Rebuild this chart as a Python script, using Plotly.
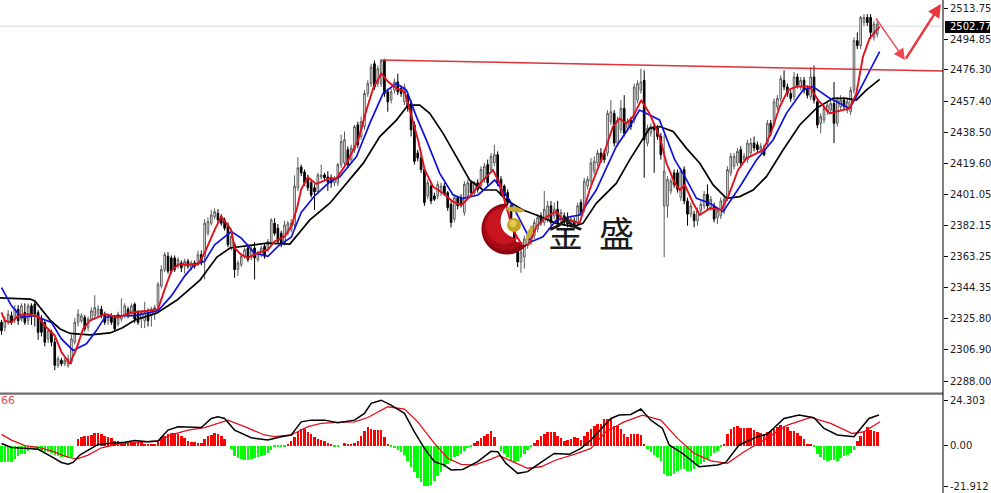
import math
import plotly.graph_objects as go

opens = [
2323.5,2320.5,2323.5,2327.5,2325.5,2331.5,2325.5,2329.5,2324.5,2333.5,
2334.5,2329.5,2325.5,2323.5,2313.5,2317.5,2311.5,2297.5,2300.5,2298.5,
2297.5,2299.5,2311.5,2323.5,2324.5,2326.5,2320.5,2325.5,2327.5,2328.5,
2331.5,2328.5,2324.5,2327.5,2326.5,2322.5,2325.5,2327.5,2331.5,2328.5,
2334.5,2329.5,2325.5,2324.5,2329.5,2327.5,2328.5,2333.5,2345.5,2355.5,
2363.5,2362.5,2362.5,2357.5,2359.5,2357.5,2360.5,2356.5,2359.5,2359.5,
2364.5,2363.5,2377.5,2383.5,2387.5,2389.5,2387.5,2385.5,2382.5,2368.5,
2370.5,2355.5,2358.5,2363.5,2368.5,2363.5,2368.5,2361.5,2364.5,2369.5,
2367.5,2371.5,2383.5,2380.5,2377.5,2371.5,2377.5,2379.5,2382.5,2405,
2417.5,2414.5,2411,2408,2405,2402.5,2411.5,2412.7,2411.5,2411,
2408,2408,2419,2420,2428,2422,2428,2443,2436,2442,
2462,2468,2480,2468,2468,2482,2463,2458,2464,2469,
2465,2457,2461,2456,2443,2426,2423,2416,2400,2406,
2400,2400,2402,2406,2402,2395,2386,2399,2399,2390,
2400,2408,2402,2408,2406,2410,2419,2416,2420,2425,
2410,2406,2402,2394,2384,2369,2360,2363,2370,2372,
2376,2380,2388,2384,2386,2394,2388,2392,2386,2388,
2387,2382,2385,2384,2396,2392,2406,2409,2415,2420,
2426,2426,2426,2445,2450,2432,2440,2453,2441,2446,
2446,2458,2464,2470,2432,2438,2442,2441,2436,2394,
2394,2403,2414,2414,2399,2416,2397,2389,2389,2385,
2391,2394,2401,2393,2394,2387,2388,2391,2399,2414,
2418,2420,2428,2422,2422,2426,2432,2431,2428,2429,
2432,2444,2444,2454,2459,2470,2466,2462,2460,2472,
2466,2470,2465,2460,2472,2457,2444,2446,2451,2452,
2456,2444,2454,2458,2452,2451,2464,2494,2491,2505,
2508,2508,2496,2498]
highs = [
2325,2327,2331,2330,2334,2334,2335,2335,2335,2335,
2336,2331,2328,2325,2320,2319,2314,2303,2302,2302,
2304,2316,2326,2331.5,2329,2328,2327,2332.5,2340,2334,
2333.5,2330,2329,2329,2328,2330,2338,2335,2333,2335,
2335.5,2331,2331,2336,2332,2333,2334,2348,2358,2366,
2366,2364,2364,2363,2361,2362,2362,2361,2361,2367,
2367,2386,2387,2391.5,2392.5,2392,2389,2387,2384,2378,
2372,2361,2365,2369,2371,2370,2372,2367,2370,2371,
2374,2386.5,2386.5,2383,2379,2385,2385,2386,2412.5,2423.5,
2419,2416,2413,2410,2407,2414,2419,2414,2415,2413,
2412,2420,2437,2439,2430,2431,2443,2445,2448,2464,
2470,2480,2482,2479,2483,2483,2465,2465,2471,2474,
2467,2468,2463,2458,2445,2428,2425,2418,2410,2408,
2402,2409,2408,2408,2403,2397,2401,2400,2401,2409,
2410,2409,2409,2410,2418,2420,2422,2426,2431,2427,
2412,2407,2404,2396,2386,2371,2368,2376,2378,2382,
2386,2389,2390,2403,2397,2397,2396,2397,2392,2390,
2390,2388,2387,2396,2398,2411,2412,2423,2424,2428,
2429,2428,2452,2458,2452,2448,2458,2461,2447,2448,
2468,2470,2477,2476,2443,2444,2444,2443,2438,2437,
2412,2411,2416,2416,2417,2418,2399,2396,2391,2393,
2397,2403,2407,2400,2396,2393,2399,2400,2418,2426,
2426,2429,2430,2426,2434,2435,2436,2433,2432,2431,
2446,2446,2459,2461,2473,2476,2468,2464,2475,2474,
2472,2472,2467,2478,2479,2459,2450,2455,2457,2458,
2469,2460,2461,2460,2459,2466,2496,2499,2509,2510,
2510,2510,2506,2507]
lows = [
2316,2318,2322,2322,2323,2322,2324,2322,2322,2322,
2321,2313,2315,2309,2311,2309,2294.5,2296,2297,2297,
2296,2298,2310,2321,2323,2318,2318,2324,2325,2327,
2326,2322,2322,2322,2318,2321,2324,2326,2326,2327,
2323,2322,2320,2320,2321,2321,2325,2332,2344,2354,
2353,2353,2354,2356,2354,2353,2356,2355,2356,2358,
2358,2349.5,2376,2382,2386,2384,2382,2379,2369,2367,
2350.5,2351.5,2357,2362,2360,2361,2349.5,2360,2363,2362,
2366,2370,2376,2371,2369,2370,2376,2378,2381,2403,
2412,2406,2403,2399,2391.5,2401,2410,2409,2403,2405,
2406,2406,2417,2418,2417,2420,2426,2429,2434,2440,
2460,2466,2464,2466,2466,2460,2451,2456,2462,2461,
2460,2455,2451,2436,2419,2421,2414,2394,2398,2395,
2397,2398,2400,2400,2391,2381,2384,2392,2393,2388,
2399,2400,2400,2402,2404,2408,2406,2414,2418,2406,
2400,2398,2394,2382,2366,2357,2353.5,2356,2368,2370,
2374,2378,2382,2382,2384,2382,2386,2382,2384,2382,
2381,2380,2380,2382,2388,2390,2404,2407,2413,2418,
2420,2420,2424,2443,2430,2430,2438,2436,2439,2440,
2444,2456,2462,2411,2430,2436,2414,2434,2422,2363,
2387,2401,2405,2402,2397,2395,2382,2387,2381,2382,
2389,2392,2392,2391,2384,2383,2386,2389,2397,2412,
2416,2418,2418,2420,2420,2424,2427,2426,2426,2424,
2430,2436,2442,2452,2457,2464,2460,2457,2458,2465,
2464,2462,2459,2458,2456,2441,2438,2444,2449,2450,
2432,2442,2452,2452,2450,2449,2462,2489,2489,2503,
2503,2495,2494,2496]
closes = [
2318.5,2324.5,2328.5,2323.5,2331.5,2324.5,2333.5,2323.5,2333.5,2327.5,
2328.5,2317.5,2317.5,2311.5,2318.5,2311.5,2297.5,2301.5,2298.5,2300.5,
2301.5,2313.5,2323.5,2328.5,2327.5,2319.5,2325.5,2330.5,2332.5,2331.5,
2327.5,2323.5,2327.5,2323.5,2319.5,2328.5,2327.5,2333.5,2327.5,2333.5,
2325.5,2323.5,2329.5,2329.5,2324.5,2331.5,2332.5,2346.5,2355.5,2364.5,
2354.5,2354.5,2355.5,2361.5,2356.5,2360.5,2357.5,2359.5,2357.5,2364.5,
2359.5,2383.5,2384.5,2388.5,2390.5,2385.5,2383.5,2380.5,2370.5,2375.5,
2355.5,2359.5,2363.5,2367.5,2361.5,2367.5,2362.5,2365.5,2368.5,2363.5,
2372.5,2385.5,2377.5,2372.5,2370.5,2382.5,2383.5,2383.5,2406,2417,
2414,2408,2405,2400.5,2402.5,2412.7,2412.7,2411,2408.5,2408,
2411,2419,2433,2434,2419,2429,2442,2431,2445,2462,
2468,2478,2466,2477,2482,2462,2457,2463,2469,2463,
2462,2466,2453,2440,2421,2423,2416,2396,2408,2397,
2398,2407,2406,2401,2393,2384,2399,2394,2395,2407,
2408,2402,2408,2404,2416,2418,2408,2424,2425,2408,
2402,2400,2396,2384,2368,2360,2366,2374,2376,2380,
2384,2387,2384,2392,2394,2384,2392,2384,2390,2384,
2383,2386,2382,2394,2390,2409,2410,2420,2421,2426,
2421,2422,2450,2451,2432,2446,2453,2438,2445,2442,
2466,2468,2469,2434,2441,2442,2440,2436,2425,2415,
2410,2409,2407,2404,2415,2397,2389,2394,2385,2391,
2395,2401,2394,2398,2386,2391,2397,2398,2416,2424,
2424,2427,2420,2424,2432,2432,2429,2428,2430,2425,
2444,2438,2457,2459,2471,2466,2462,2459,2472,2467,
2470,2464,2461,2472,2458,2443,2448,2453,2455,2456,
2444,2458,2458,2454,2457,2464,2494,2491,2508,2508,
2505,2499,2504,2504]

ma_long_bar = [-0.5,8.6,10,14.6,17.6,20.6,26.6,32.6,36.2,40.1,46.7,52.7,59.6,64.7,68.6,79.7,86.6,92.6,98.6,
103.6,108.6,113.6,118.6,122.1,125.6,128.6,132.6,136.6,140.6,144.6,148.6,151.6,156.6,160.6,166.6,171.6,174.6,
178.6,184.6,188.6,192.6,194.6,197.6,201.7,205.7,209.7,213.7,217.7,221.7,225.7,229.7,234.7,239.7,244.7,249.7,
253.7,256.7,259.7,263.7]
ma_long = [2338.3,2337.6,2336.4,2324.9,2319.5,2316.8,2315.9,2317.1,2320.1,2324.9,2329.2,2337,2349.1,2363,2368.5,2371.5,2370.9,2385.5,2395.6,
2407.6,2419.7,2435.9,2445.9,2455,2455,2450,2437.9,2423.8,2409.6,2403.6,2403.6,2397.5,2391.5,2388.5,2383.4,2381.4,2383.4,
2395.5,2407.6,2421.7,2434.8,2440.9,2442,2439,2428.8,2419.8,2406.7,2398.6,2399.6,2403.6,2411.7,2427.8,2443,2453,2459.1,
2459.1,2458.1,2464.1,2470.6]

ma_fast_bar = [0,1,3,5,8,11,13,16,18,20.5,22.5,24.5,26.5,31,35,39,44,47,49,51,53,56,59,61,64,66,69,70,72,74,77,80,82,85,87,88.8,90,92,94.5,98.6,
100.6,103.6,107.1,109.6,111.6,114.1,116.1,118.6,121.1,122.6,125.1,127.1,129.6,132.6,135.6,138.1,140.6,144.6,147.6,149.6,151.6,153.6,156.6,158.6,160.6,163.6,166.6,168.6,170.6,173.6,176.6,179.6,181.6,183.6,185.6,187.6,189.6,192.1,194.6,197.6,
199.7,202.2,203.7,205.2,207.7,209.7,212.7,216.2,218.2,221.2,223.7,228.7,231.2,233.7,236.2,238.7,242.7,245.2,248.7,250.7,254.7,256.7,258.7,260.7,263.7]
ma_fast = [2329.5,2324.5,2323.5,2327.5,2328.5,2327,2321.5,2315.5,2305.5,2298.5,2307.5,2319.5,2324.5,2328.5,2326.5,2329.5,2330.5,2331.5,2343.5,2354.5,2358.5,2358.5,2358.5,2365.5,2379.5,2387.5,2379.5,2368.5,2364.5,2362.5,2365.5,2367.5,2372.5,2375.5,2381.5,2393,2404,2411.3,2407.3,2410.6,
2410.6,2419.7,2433.8,2452,2465.1,2474.2,2469.1,2465.1,2463.1,2452,2433.8,2415.7,2405.6,2401.6,2396.5,2394.5,2399.5,2409.6,2415.7,2407.6,2393.5,2379.4,2369.3,2371.3,2381.4,2387.4,2390.5,2385.4,2385.4,2383.4,2403.6,2419.7,2429.8,2441.9,2446.9,2443.9,2447.9,2458,2450,2435.9,
2419.8,2407.7,2403.6,2406.7,2395.6,2388.5,2392.5,2391.5,2399.6,2415.7,2422.8,2427.8,2438.9,2454,2464.1,2466.2,2466.2,2458.1,2450,2451,2453,2462.1,2484.3,2495.4,2502.5]

ma_mid_bar = [0,3,6,10,15,18,21.5,25.5,28.5,31,35,40,47,51,55,58,61,64,69,72,76,80,83,87,90,94,98.6,
101.6,106.6,110.6,114.6,118.6,121.6,124.6,127.6,131.6,135.6,138.6,143.1,148.1,152.6,156.6,159.1,162.6,166.6,170.6,173.6,178.6,184.6,188.6,191.6,197.6,
202.2,205.2,208.7,212.7,216.7,221.7,226.7,231.7,235.7,240.7,243.7,248.7,254.7,256.7,260.7,263.7]
ma_mid = [2344.5,2333.5,2326.5,2327.5,2323.5,2313.5,2306.5,2310.5,2318.5,2326.5,2327.5,2327.5,2330.5,2339.5,2351.5,2358.5,2360.5,2370.5,2378.5,2374.5,2365.5,2363.5,2369.5,2375,2390,2400,2408.6,
2411.6,2423.8,2443.9,2462.1,2468.1,2464.1,2448,2433.8,2413.7,2400.6,2398.5,2400.6,2409.6,2397.5,2381.4,2372.3,2375.3,2385.4,2387.4,2388.5,2403.6,2429.8,2441.9,2452,2446,
2421.8,2411.7,2398.6,2395.6,2390.5,2405.6,2421.8,2433.9,2450,2464.1,2466.2,2459.1,2453,2460.1,2476.2,2487.3]

macd_hist = [
-8.9,-8.9,-8.9,-8.5,-7.1,-5.3,-4.4,-4.4,-2.7,-1.8,
-2.1,-2.1,-2.7,-3.5,-3.5,-3.9,-5,-5.3,-6.2,-6.2,
-6.7,-6.2,0,3.5,4.8,5,5.3,5.8,6.5,6.7,
6.2,5.3,4.4,3.9,2.5,2.5,2.1,1.8,1.4,1.8,
2.1,2.1,1.8,.9,.4,.4,.4,2.1,4.4,5.3,
6.2,6.5,6.7,6.2,5.3,3.9,2.7,2.1,1.8,1.4,
1.4,3.5,5,5.7,6.5,6.2,5,3.5,0,-1.8,
-5.3,-6.7,-7.1,-7.4,-7.4,-7.1,-6.7,-6.2,-5.7,-5,
-3.9,-2.1,-.4,-.5,-.7,-.5,.5,2.7,4.4,7.1,
8.9,8.9,7.4,6.2,4.4,3.5,3.2,2.7,1.4,.4,
-.5,-.7,0,1.4,1.1,1.1,1.4,2.7,5.3,8,
9.7,8.9,8.5,8.5,8.5,4.4,.9,-.5,-1.4,-2.3,
-3.2,-5,-8,-11.5,-14.2,-17.3,-19.5,-21.2,-21.2,-20.9,
-18.6,-15.9,-14.2,-11.5,-9.7,-8,-6.2,-5.3,-4.4,-2.7,
-1.4,-.4,1.4,2.7,3.9,5,6.2,8,4.4,0,
-2.7,-4.4,-6.2,-8,-8.9,-8,-6.2,-4.4,-2.1,-.5,
1.4,3.2,5,6.2,7.1,7.1,7.1,5,3.9,2.7,
3.2,3.5,4.4,3.9,3.2,5.3,7.1,8.9,10.6,11.5,
11.5,14.2,14.2,14.2,10.6,10.6,8.9,6.2,4.4,6.2,
6.2,6.2,5.8,.4,-1.8,-3.5,-5,-6.2,-8,-15,
-16.3,-16.3,-15,-13.3,-12.4,-12.4,-13.3,-13.3,-12.4,-11,
-9.7,-8.5,-7.1,-5.3,-3.9,-2.7,-.9,.4,6.2,8.9,
9.7,10.6,9.2,9.2,9.2,9.2,8.5,7.1,6.7,6.2,
7.1,8,8.9,9.7,11,10.6,9.7,8,8,6.7,
5.3,3.5,.9,.5,-.9,-4.4,-6.2,-7.4,-8,-7.4,
-7.4,-8,-6.7,-5.7,-5,-3.9,-2.1,2.7,5.3,8,
9.7,8.5,8,7.1]

macd_bar = [0,3,7,11,15,18,20,21.5,23.5,26,29,32,37,40,44,47,50,53,60,63,65,67,70,75,80,84,87,90,93,97,101,106,109,111,114,117,121,124,127,130,133,135,138.5,143,147,149,151.5,155,158,162,166,170.5,174,177,181,183,185.5,189,192,195,198.5,200.5,204.5,209.5,215,217.5,221.5,227,230,235,239.5,244,247,251,256,260.5,263.5]
macd_line = [1.2,-.9,-1.4,-1.9,-5.8,-8.9,-9.9,-8.9,-5,-2.3,.7,1.2,1.8,2.7,2.1,2.5,8.3,10.1,9.7,14.5,15.4,14.5,8.3,4.2,3,4.8,5.7,12.7,13.6,13.6,12.2,13.6,17.2,22.5,24.2,21.6,17.2,7.4,-1.4,-8.5,-10.3,-12.9,-12.6,-8.5,-3,-3.2,-9.4,-14.7,-13.8,-8.9,-4.1,-4.6,-1.4,3,11,14.5,16.3,16.6,19.5,13.6,9.2,.4,-4.1,-11.2,-10.3,-8.9,.4,4.8,6.2,14.5,16.3,14.9,9.2,5.7,4.8,14.5,16.3]
signal_bar = [0,3,7,11,15,19,22.5,26,30,35,40,47,51,56,61,68,73,79,82,87,92,96,101,106,110,116,121,125,130,134,138,142,147,149.5,153,158,162,166.5,172,177,181.5,187,192.5,198,203,208,213,218,223,229,236,243,249,255.5,259,263.8]
signal_line = [6,3,0,-.9,-2.7,-5.5,-7.1,-5,-1.1,.9,1.8,2.5,5.7,8.3,9.6,13.6,10.1,5.7,4.8,5.7,10.1,11.9,12.4,12.7,15,20.7,19.5,12.7,1.2,-6.7,-9.9,-10.3,-7.1,-5.3,-8.1,-12,-11.2,-7.6,-4.6,-1.4,7.4,12.7,16.3,13.6,3.9,-4.1,-8.1,-9.4,-3.2,3,11,15,11.9,6.5,7.4,12.7]

price_ticks = [2513.75,2494.85,2476.30,2457.40,2438.50,2419.60,2401.05,2382.15,2363.25,2344.35,2325.80,2306.90,2288.00]
macd_ticks = [24.303,0.0,-21.912]
macd_tick_text = ["24.303","0.00","-21.912"]
last_price = 2502.77
level_bars = [114.3,282.8]
level_prices = [2482.3,2475.6]
swing_bars = [262.3,271.3,282.1]
swing_prices = [2508.3,2482.3,2516.2]

W, H = 991, 493
PLOT_R = 943
FONT = "DejaVu Sans"
INK = "#1c1c1c"
def fx(p): return p / W
def fy(p): return 1 - p / H

bars = list(range(len(closes)))
xr = [-0.45, (PLOT_R - 1.5) / 3.33]

fig = go.Figure()
fig.add_trace(go.Candlestick(
    x=bars, open=opens, high=highs, low=lows, close=closes,
    increasing=dict(line=dict(color="#5a5a5a", width=1), fillcolor="#ffffff"),
    decreasing=dict(line=dict(color="#000000", width=1), fillcolor="#000000"),
    whiskerwidth=0, hoverinfo="skip", showlegend=False, xaxis="x", yaxis="y"))
fig.add_trace(go.Scatter(x=ma_long_bar, y=ma_long, mode="lines", line=dict(color="#000000", width=1.7), showlegend=False, hoverinfo="skip"))
fig.add_trace(go.Scatter(x=ma_mid_bar, y=ma_mid, mode="lines", line=dict(color="#1010e0", width=1.7), showlegend=False, hoverinfo="skip"))
fig.add_trace(go.Scatter(x=ma_fast_bar, y=ma_fast, mode="lines", line=dict(color="#e0101c", width=1.9), showlegend=False, hoverinfo="skip"))
fig.add_trace(go.Scatter(x=level_bars, y=level_prices, mode="lines", line=dict(color="#e0303a", width=1.5), showlegend=False, hoverinfo="skip"))
fig.add_trace(go.Bar(x=bars, y=macd_hist, width=0.76,
    marker=dict(color=["#ff0000" if v > 0 else "#00ff00" for v in macd_hist], line=dict(width=0)),
    showlegend=False, hoverinfo="skip", xaxis="x2", yaxis="y2"))
fig.add_trace(go.Scatter(x=signal_bar, y=signal_line, mode="lines", line=dict(color="#e0101c", width=1.3), showlegend=False, hoverinfo="skip", xaxis="x2", yaxis="y2"))
fig.add_trace(go.Scatter(x=macd_bar, y=macd_line, mode="lines", line=dict(color="#000000", width=1.5), showlegend=False, hoverinfo="skip", xaxis="x2", yaxis="y2"))

def crescent(cx, cy, r, ix, iy, ir, n=48):
    d = math.hypot(ix - cx, iy - cy)
    base = math.atan2(iy - cy, ix - cx)
    half = math.acos((d * d + r * r - ir * ir) / (2 * d * r))
    start = base + half
    end = base - half + 2 * math.pi
    pts = []
    for k in range(n + 1):
        t = start + (end - start) * k / n
        pts.append((cx + r * math.cos(t), cy + r * math.sin(t)))
    ihalf = math.acos((d * d + ir * ir - r * r) / (2 * d * ir))
    s2 = base + math.pi + ihalf
    e2 = base + math.pi - ihalf
    for k in range(n + 1):
        t = s2 + (e2 - s2) * k / n
        pts.append((ix + ir * math.cos(t), iy + ir * math.sin(t)))
    return "M " + " L ".join(f"{fx(x):.5f},{fy(y):.5f}" for x, y in pts) + " Z"

def paper_path(fill, d):
    return dict(type="path", xref="paper", yref="paper", path=d, fillcolor=fill,
                line=dict(width=0), layer="above")

def circle(cx, cy, r, fill):
    return dict(type="circle", xref="paper", yref="paper", x0=fx(cx - r), x1=fx(cx + r),
                y0=fy(cy + r), y1=fy(cy - r), fillcolor=fill, line=dict(width=0), layer="above")

def leaf(x0, y0, x1, y1, qx0, qy0, qx1, qy1, fill):
    d = (f"M {fx(x0):.5f},{fy(y0):.5f} Q {fx(qx0):.5f},{fy(qy0):.5f} {fx(x1):.5f},{fy(y1):.5f} "
         f"Q {fx(qx1):.5f},{fy(qy1):.5f} {fx(x0):.5f},{fy(y0):.5f} Z")
    return paper_path(fill, d)

shapes = [
    dict(type="line", xref="paper", yref="y", x0=0, x1=fx(PLOT_R), y0=last_price, y1=last_price,
         line=dict(color="#d8d8d8", width=1), layer="below"),
    dict(type="rect", xref="paper", yref="paper", x0=0, x1=fx(PLOT_R), y0=fy(394.8), y1=fy(392.6),
         fillcolor="#6e6e6e", line=dict(width=0), layer="above"),
    dict(type="line", xref="paper", yref="paper", x0=fx(PLOT_R), x1=fx(PLOT_R), y0=0, y1=1,
         line=dict(color="#000000", width=1), layer="above"),
    dict(type="rect", xref="paper", yref="paper", x0=fx(945), x1=fx(990), y0=fy(33), y1=fy(21),
         fillcolor="#000000", line=dict(width=0), layer="above"),
    paper_path("#8c0410", crescent(507, 229, 25.5, 523, 222, 23)),
    paper_path("#a80a16", crescent(506, 228, 22.5, 522, 221, 21.5)),
    paper_path("#c8141f", crescent(504, 226, 18, 518, 220, 18)),
    circle(514, 225, 7, "#c4a41e"),
    circle(513, 223.5, 3.5, "#e2cb55"),
    leaf(505, 209, 525, 211, 514, 203, 518, 215, "#c9ac34"),
    leaf(526, 241, 533, 225, 525, 231, 535, 235, "#c9ac34"),
]

def tag(text, x, y, **kw):
    base = dict(text=text, xref="paper", yref="paper", x=fx(x), y=fy(y), showarrow=False)
    base.update(kw)
    return base

annotations = [
    tag(f"{last_price:.2f}", 947.5, 27, xanchor="left", yanchor="middle",
        font=dict(family=FONT, size=10, color="#ffffff")),
    tag("66", -1, 400, xanchor="left", yanchor="middle", font=dict(family=FONT, size=11, color="#e8484c")),
    tag("金", 565, 231, xanchor="center", yanchor="middle", font=dict(family="Noto Sans CJK SC", size=35, color="#1a1a1a")),
    tag("盛", 616, 231, xanchor="center", yanchor="middle", font=dict(family="Noto Sans CJK SC", size=35, color="#1a1a1a")),
    dict(x=swing_bars[1], y=swing_prices[1], ax=swing_bars[0], ay=swing_prices[0], xref="x", yref="y", axref="x", ayref="y",
         text="", showarrow=True, arrowhead=2, arrowsize=1.6, arrowwidth=1.4, arrowcolor="#ea4a50"),
    dict(x=swing_bars[2], y=swing_prices[2], ax=swing_bars[1], ay=swing_prices[1], xref="x", yref="y", axref="x", ayref="y",
         text="", showarrow=True, arrowhead=2, arrowsize=1.1, arrowwidth=2.4, arrowcolor="#e8383d"),
]

axis_font = dict(family=FONT, size=10, color=INK)
fig.update_layout(
    width=W, height=H, autosize=False, margin=dict(l=0, r=0, t=0, b=0),
    paper_bgcolor="#ffffff", plot_bgcolor="#ffffff", showlegend=False, bargap=0,
    dragmode=False, shapes=shapes, annotations=annotations,
    xaxis=dict(domain=[0, fx(PLOT_R)], range=xr, showgrid=False, zeroline=False, showticklabels=False,
               ticks="", rangeslider=dict(visible=False), anchor="y", showline=False),
    xaxis2=dict(domain=[0, fx(PLOT_R)], range=xr, showgrid=False, zeroline=False, showticklabels=False,
                ticks="", anchor="y2", showline=False),
    yaxis=dict(domain=[fy(393), 1], range=[2518.6 - 0.6052 * 393, 2518.6], side="right", anchor="x",
               tickmode="array", tickvals=price_ticks, ticktext=[f"{v:.2f}" for v in price_ticks],
               showgrid=False, zeroline=False, ticks="outside", ticklen=4, tickcolor="#000000",
               tickfont=axis_font, showline=False),
    yaxis2=dict(domain=[0, fy(395)], range=[(445.7 - 493) / 1.88, (445.7 - 395) / 1.88], side="right", anchor="x2",
                tickmode="array", tickvals=macd_ticks, ticktext=macd_tick_text,
                showgrid=False, zeroline=False, ticks="outside", ticklen=4, tickcolor="#000000",
                tickfont=axis_font, showline=False),
)

fig.write_html("out.html", config=dict(displayModeBar=False),
               post_script="document.body.style.margin='0';document.body.style.overflow='hidden';")
